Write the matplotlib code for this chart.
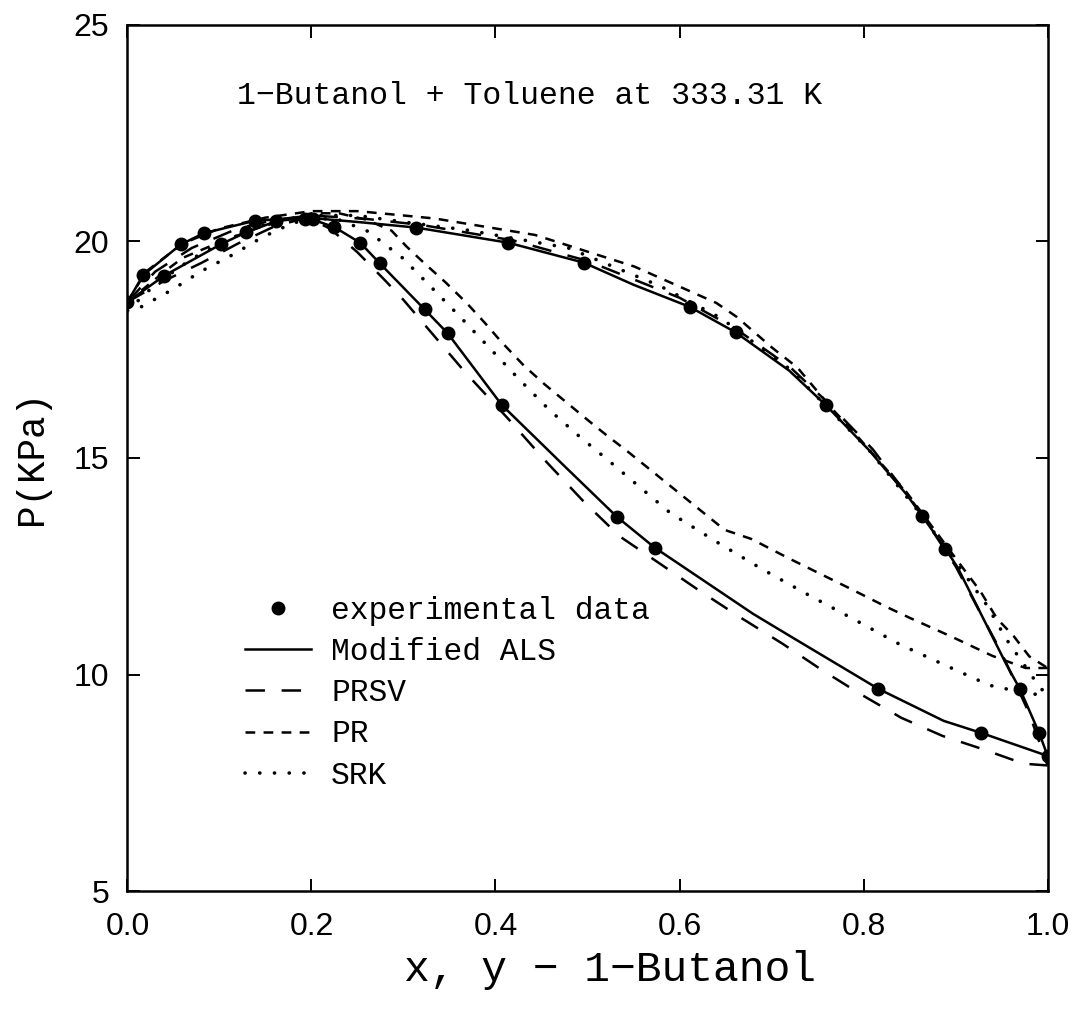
import matplotlib
matplotlib.use("Agg")
import matplotlib.pyplot as plt
from matplotlib.lines import Line2D

plt.rcParams["lines.scale_dashes"] = False
MONO = ["Liberation Mono", "DejaVu Sans Mono"]

# experimental points, x or y of 1-butanol vs P (kPa)
exp_bub_x = [0.0, 0.017, 0.058, 0.083, 0.139, 0.193, 0.202, 0.314, 0.414, 0.496, 0.611, 0.661, 0.759, 0.864, 0.889, 0.97, 0.991, 1.0]
exp_bub_p = [18.6, 19.22, 19.93, 20.19, 20.48, 20.52, 20.52, 20.32, 19.97, 19.51, 18.49, 17.9, 16.22, 13.65, 12.9, 9.66, 8.64, 8.12]
exp_dew_x = [0.04, 0.102, 0.129, 0.162, 0.225, 0.253, 0.274, 0.323, 0.348, 0.407, 0.532, 0.573, 0.816, 0.928]
exp_dew_p = [19.21, 19.94, 20.21, 20.47, 20.33, 19.97, 19.5, 18.43, 17.88, 16.22, 13.64, 12.93, 9.67, 8.65]

# Modified ALS
als_bub_x = [0, 0.017, 0.058, 0.083, 0.139, 0.195, 0.25, 0.314, 0.414, 0.496, 0.55, 0.611, 0.661, 0.719, 0.759, 0.806, 0.847, 0.864, 0.889, 0.902, 0.955, 0.97, 0.991, 1.0]
als_bub_p = [18.6, 19.22, 19.93, 20.19, 20.48, 20.55, 20.45, 20.32, 19.97, 19.51, 19.0, 18.49, 17.9, 17.02, 16.22, 15.18, 14.15, 13.65, 12.9, 12.48, 10.24, 9.66, 8.64, 8.12]
als_dew_x = [0, 0.04, 0.102, 0.129, 0.162, 0.195, 0.225, 0.253, 0.274, 0.323, 0.348, 0.407, 0.477, 0.532, 0.573, 0.68, 0.723, 0.816, 0.887, 0.928, 1.0]
als_dew_p = [18.6, 19.21, 19.94, 20.21, 20.47, 20.55, 20.33, 19.97, 19.5, 18.43, 17.88, 16.22, 14.77, 13.64, 12.93, 11.4, 10.85, 9.67, 8.93, 8.65, 8.12]

# PRSV
prsv_bub_x = [0, 0.03, 0.07, 0.12, 0.16, 0.2, 0.26, 0.32, 0.42, 0.5, 0.6, 0.66, 0.72, 0.76, 0.81, 0.86, 0.9, 0.95, 0.98, 1.0]
prsv_bub_p = [18.6, 19.3, 19.85, 20.3, 20.5, 20.6, 20.52, 20.38, 20.02, 19.55, 18.7, 18.0, 17.1, 16.3, 15.2, 13.8, 12.5, 10.5, 9.1, 7.9]
prsv_dew_x = [0, 0.04, 0.08, 0.12, 0.16, 0.195, 0.22, 0.25, 0.28, 0.3, 0.367, 0.414, 0.454, 0.496, 0.535, 0.58, 0.622, 0.666, 0.712, 0.755, 0.798, 0.841, 0.886, 0.929, 0.974, 1.0]
prsv_dew_p = [18.6, 19.09, 19.5, 19.95, 20.35, 20.55, 20.3, 19.75, 19.1, 18.65, 16.98, 15.9, 14.94, 13.99, 13.19, 12.54, 11.93, 11.32, 10.71, 10.10, 9.53, 9.0, 8.58, 8.28, 7.94, 7.9]

# PR
pr_bub_x = [0, 0.02, 0.06, 0.1, 0.15, 0.2, 0.25, 0.29, 0.334, 0.443, 0.551, 0.64, 0.662, 0.701, 0.728, 0.766, 0.785, 0.847, 0.91, 0.927, 0.945, 0.963, 0.98, 1.0]
pr_bub_p = [18.6, 19.3, 19.95, 20.3, 20.55, 20.7, 20.7, 20.62, 20.53, 20.15, 19.42, 18.58, 18.26, 17.54, 17.09, 16.13, 15.7, 14.2, 12.4, 11.92, 11.29, 10.89, 10.42, 10.15]
pr_dew_x = [0, 0.04, 0.06, 0.1, 0.14, 0.18, 0.2, 0.23, 0.26, 0.287, 0.303, 0.323, 0.346, 0.369, 0.388, 0.406, 0.431, 0.454, 0.479, 0.5, 0.521, 0.543, 0.564, 0.649, 0.678, 0.719, 0.782, 0.825, 0.85, 0.897, 0.94, 0.976, 1.0]
pr_dew_p = [18.6, 19.3, 19.62, 19.98, 20.3, 20.55, 20.65, 20.65, 20.5, 20.25, 19.89, 19.49, 19.05, 18.57, 18.13, 17.69, 17.13, 16.69, 16.25, 15.88, 15.52, 15.16, 14.80, 13.34, 13.13, 12.68, 12.02, 11.56, 11.31, 10.86, 10.43, 10.15, 10.15]

# SRK
srk_bub_x = [0, 0.03, 0.07, 0.11, 0.15, 0.2, 0.25, 0.3, 0.367, 0.479, 0.579, 0.645, 0.72, 0.806, 0.864, 0.9, 0.934, 0.955, 0.99, 1.0]
srk_bub_p = [18.4, 19.0, 19.6, 20.05, 20.4, 20.6, 20.6, 20.45, 20.27, 19.85, 18.97, 18.23, 17.05, 15.18, 13.65, 12.6, 11.6, 10.82, 9.75, 9.5]
srk_dew_x = [0, 0.015, 0.049, 0.08, 0.115, 0.146, 0.177, 0.2, 0.23, 0.263, 0.279, 0.297, 0.329, 0.362, 0.394, 0.426, 0.459, 0.491, 0.524, 0.54, 0.59, 0.642, 0.69, 0.739, 0.789, 0.839, 0.886, 0.937, 0.97, 1.0]
srk_dew_p = [18.4, 18.49, 18.89, 19.31, 19.70, 20.09, 20.40, 20.55, 20.5, 20.22, 19.94, 19.66, 18.97, 18.25, 17.53, 16.81, 16.10, 15.50, 14.92, 14.63, 13.73, 13.04, 12.43, 11.85, 11.28, 10.70, 10.24, 9.75, 9.6, 9.5]

x_ticks = [0.0, 0.2, 0.4, 0.6, 0.8, 1.0]
y_ticks = [5, 10, 15, 20, 25]

fig = plt.figure(figsize=(10.89, 10.13), dpi=100)
ax = fig.add_axes([0.117, 0.1204, 0.845, 0.855])

LW = 1.8
styles = {
    "als": dict(ls="-"),
    "prsv": dict(dashes=(14, 12)),
    "pr": dict(dashes=(7, 6)),
    "srk": dict(dashes=(0.1, 10.5), dash_capstyle="round", lw=2.6),
}
curves = [("als", als_bub_x, als_bub_p), ("als", als_dew_x, als_dew_p),
          ("prsv", prsv_bub_x, prsv_bub_p), ("prsv", prsv_dew_x, prsv_dew_p),
          ("pr", pr_bub_x, pr_bub_p), ("pr", pr_dew_x, pr_dew_p),
          ("srk", srk_bub_x, srk_bub_p), ("srk", srk_dew_x, srk_dew_p)]
for key, xs, ps in curves:
    kw = dict(color="black", lw=LW)
    kw.update(styles[key])
    ax.plot(xs, ps, **kw)

ax.plot(exp_bub_x + exp_dew_x, exp_bub_p + exp_dew_p, "o", color="black", ms=9, ls="none", zorder=5)

ax.set_xlim(0, 1)
ax.set_ylim(5, 25)
ax.set_xticks(x_ticks)
ax.set_xticklabels([f"{v:.1f}" for v in x_ticks])
ax.set_yticks(y_ticks)
ax.set_yticklabels([str(v) for v in y_ticks])
ax.tick_params(direction="in", length=9, width=1.4, top=True, right=True, labelsize=23, pad=13)
ax.tick_params(axis="x", pad=15)
for lab in ax.get_xticklabels() + ax.get_yticklabels():
    lab.set_fontfamily("Liberation Sans")
for s in ax.spines.values():
    s.set_linewidth(1.8)

ax.set_xlabel("x, y \u2212 1\u2212Butanol", fontsize=31, family=MONO)
ax.xaxis.set_label_coords(0.524, -0.068)
ax.set_ylabel("P(KPa)", fontsize=27, family=MONO)
ax.yaxis.set_label_coords(-0.084, 0.5)

ax.text(0.437, 23.35, "1\u2212Butanol + Toluene at 333.31 K", fontsize=22.7, family=MONO,
        ha="center", va="center")

handles = [Line2D([], [], marker="o", color="black", ms=9, ls="none")]
for key in ["als", "prsv", "pr", "srk"]:
    kw = dict(color="black", lw=LW)
    kw.update(styles[key])
    handles.append(Line2D([], [], **kw))
labels = ["experimental data", "Modified ALS", "PRSV", "PR", "SRK"]
leg = ax.legend(handles, labels, loc="upper left", bbox_to_anchor=(0.128, 0.341), frameon=False,
                borderpad=0, borderaxespad=0, handlelength=2.1, handletextpad=0.65,
                labelspacing=0.36, prop=dict(family=MONO, size=22.5))

fig.savefig("out.png", dpi=100)
